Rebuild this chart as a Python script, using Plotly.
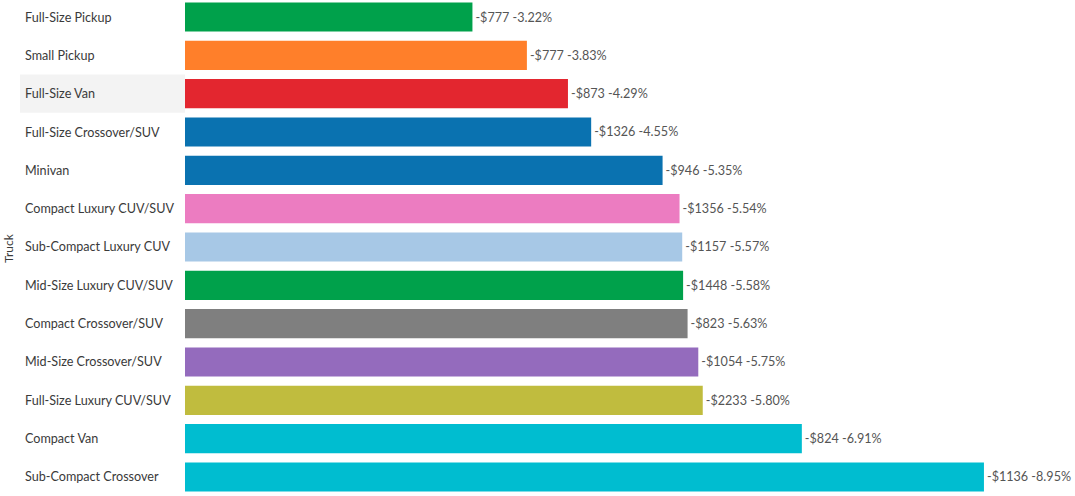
import plotly.graph_objects as go

categories = [
    "Full-Size Pickup", "Small Pickup", "Full-Size Van", "Full-Size Crossover/SUV",
    "Minivan", "Compact Luxury CUV/SUV", "Sub-Compact Luxury CUV", "Mid-Size Luxury CUV/SUV",
    "Compact Crossover/SUV", "Mid-Size Crossover/SUV", "Full-Size Luxury CUV/SUV",
    "Compact Van", "Sub-Compact Crossover",
]
pct_decline = [3.22, 3.83, 4.29, 4.55, 5.35, 5.54, 5.57, 5.58, 5.63, 5.75, 5.80, 6.91, 8.95]
dollar_decline = [777, 777, 873, 1326, 946, 1356, 1157, 1448, 823, 1054, 2233, 824, 1136]
colors = [
    "#00a14b", "#ff7f2a", "#e3262f", "#0a72b0", "#0a72b0", "#ec7cc1", "#a7c8e6",
    "#00a14b", "#7f7f7f", "#946bbd", "#c0bc3e", "#00bdd0", "#00bdd0",
]

labels = [f"-${d} -{p:.2f}%" for d, p in zip(dollar_decline, pct_decline)]

fig = go.Figure(go.Bar(
    y=categories, x=pct_decline, orientation="h",
    marker=dict(color=colors, line=dict(width=0)),
    text=labels, textposition="outside", cliponaxis=False,
    textfont=dict(family="Lato", size=12.6, color="#555555"),
    hoverinfo="skip",
))

fig.update_layout(
    width=1075, height=496,
    margin=dict(l=185, r=0, t=0, b=0),
    paper_bgcolor="white", plot_bgcolor="white",
    bargap=0.24, showlegend=False,
    xaxis=dict(range=[0, 9.97], visible=False),
    yaxis=dict(categoryorder="array", categoryarray=categories,
               range=[12.496, -0.4435], showticklabels=False,
               showgrid=False, zeroline=False, showline=False),
    font=dict(family="Lato", size=12, color="#555555"),
)

# highlighted row band
fig.add_shape(type="rect", xref="paper", yref="y", x0=-0.1854, x1=0,
              y0=1.5, y1=2.5, fillcolor="#f3f3f3", line=dict(width=0), layer="below")

for c in categories:
    fig.add_annotation(x=-0.1822, xref="paper", y=c, yref="y", text=c,
                       showarrow=False, xanchor="left",
                       font=dict(family="Lato", size=12.6, color="#3a3a3a"))

fig.add_annotation(x=-0.199, xref="paper", y=0.5, yref="paper", text="Truck",
                   textangle=-90, showarrow=False, xanchor="center",
                   font=dict(family="Lato", size=12, color="#3a3a3a"))

fig.write_html("out.html", config={"displayModeBar": False},
               post_script="document.body.style.margin='0';document.body.style.overflow='hidden';")
